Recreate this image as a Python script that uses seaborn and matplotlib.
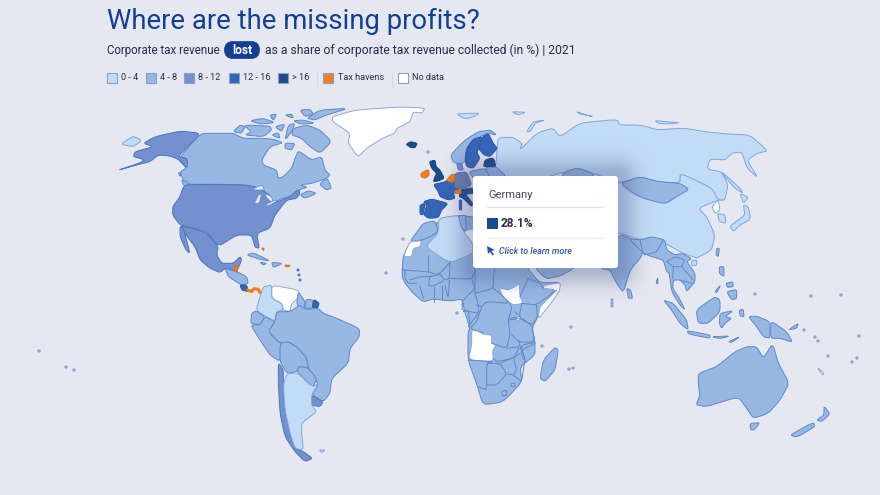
import numpy as np
import pandas as pd
import seaborn as sns
import matplotlib.pyplot as plt
from matplotlib.patches import FancyBboxPatch, Rectangle

# legend classes
BINS = ['0 - 4', '4 - 8', '8 - 12', '12 - 16', '> 16', 'Tax havens', 'No data']
BIN_COLORS = ['#c3dcf5', '#97b8e3', '#7390cf', '#3465b8', '#1c4a8f', '#f07f1e', '#ffffff']
EDGE_COLORS = ['#7fa6dc', '#5f88c8', '#4f74bc', '#2a559f', '#173d78', '#d96f14', '#8fa9d8']
BG = '#e5e8f0'
NAVY = '#123f94'
INK = '#2b2a4c'
GERMANY = '#6d80ad'

TITLE = 'Where are the missing profits?'
SUB_LEFT = 'Corporate tax revenue'
SUB_PILL = 'lost'
SUB_RIGHT = 'as a share of corporate tax revenue collected (in %) | 2021'
TIP_NAME = 'Germany'
TIP_VALUE = '28.1%'
TIP_LINK = 'Click to learn more'

NA_ORIGIN = (100, 100)
north_america = [
    (0, [(62,133),(100,108),(125,122),(100,140)]),
    (1, [(245,240),(262,245),(268,262),(250,255)]),
    (1, [(235,218),(243,218),(240,230)]),
    (2, [(305,100),(240,93),(165,110),(130,130),(160,140),(105,155),(100,170),(130,178),(125,187),(50,212),(110,195),(150,185),(175,165),(210,168),(235,178),(262,205),(262,175),(232,170)]),
    (2, [(265,253),(440,255),(470,262),(510,285),(520,310),(570,290),(595,268),(600,280),(590,295),(560,300),(525,345),(510,385),(470,400),(478,445),(465,442),(455,405),(410,405),(355,440),(320,395),(280,385),(240,375),(218,345),(218,320),(240,290),(250,260)]),
    (2, [(240,378),(280,385),(320,400),(355,440),(350,465),(365,490),(400,490),(420,470),(425,480),(410,515),(375,505),(360,518),(330,505),(300,480),(285,440),(250,395)]),
    (2, [(240,380),(250,385),(270,460),(258,450),(240,410)]),
    (1, [(375,505),(410,515),(440,530),(445,550),(425,555),(385,530)]),
    (3, [(420,555),(440,555),(445,575),(425,570)]),
    (1, [(440,465),(460,458),(510,483),(480,478)]),
    (1, [(515,487),(548,490),(520,503)]),
    (1, [(480,487),(500,490),(490,495)]),
    (5, [(403,498),(412,495),(412,515),(403,515)]),
    (5, [(555,495),(570,496),(568,500),(556,500)]),
    (5, [(485,443),(493,446),(490,452)]),
]
panama = [(443,570),(455,575),(462,566),(475,568),(480,578)]
greenland = [(332,117),(355,110),(400,107),(425,108),(422,113),(413,112),(410,122),(397,128),(395,133),(383,138),(367,148),(358,157),(348,143),(350,133),(333,122)]

CA_ORIGIN = (220, 100)
canada = [
    [(-60,100),(0,100),(40,100),(70,115),(130,115),(160,118),(190,128),(150,140),(125,180),(130,195),(170,210),(175,235),(190,230),(215,205),(225,175),(235,152),(275,180),(305,170),(315,210),(330,225),(320,235),(290,245),(275,250),(240,255),(262,262),(240,268),(235,285),(185,295),(160,310),(150,290),(125,265),(95,260),(80,255),(0,253),(-105,253),(-120,215),(-100,205),(-125,178)],
    [(305,245),(322,235),(335,265),(320,270),(300,255)],
    [(240,285),(265,272),(290,280),(255,295)],
    [(220,85),(260,75),(300,90),(335,125),(300,160),(270,140),(245,115),(215,105)],
    [(70,75),(150,78),(155,90),(130,110),(75,105),(95,95)],
    [(40,95),(60,75),(75,80),(65,100)],
    [(260,55),(300,30),(385,25),(320,45),(285,60)],
    [(220,62),(250,60),(285,70),(240,72)],
    [(90,62),(130,55),(165,68),(120,72)],
    [(150,45),(170,42),(160,62)],
    [(195,45),(215,42),(220,55)],
    [(240,30),(270,28),(280,42),(255,50)],
    [(165,80),(195,72),(185,95)],
    [(205,75),(225,70),(215,95),(195,120)],
    [(155,105),(175,98),(180,115)],
    [(195,130),(225,130),(215,150),(195,145)],
]
# lakes are holes in the land
lakes = [
    [(95,268),(125,255),(135,270),(110,270)],
    [(103,310),(115,285),(125,280),(118,310)],
    [(135,280),(155,290),(160,310),(140,295)],
    [(135,315),(165,300),(172,303),(145,318)],
]

SA_ORIGIN = (220, 270)
south_america = [
    (6, [(155,45),(235,60),(240,80),(215,100),(210,125),(190,120),(185,100),(155,85)]),
    (0, [(155,45),(155,85),(185,100),(190,120),(170,125),(165,155),(108,122),(120,80),(130,50)]),
    (1, [(108,122),(135,140),(120,165),(92,160),(95,130)]),
    (1, [(92,165),(120,165),(135,140),(165,155),(145,185),(175,215),(185,220),(180,275),(150,255),(120,210)]),
    (1, [(235,65),(255,95),(255,118),(240,120),(230,100)]),
    (1, [(258,88),(280,90),(277,115),(255,115)]),
    (3, [(282,88),(298,100),(292,115),(277,112)]),
    (1, [(145,185),(165,155),(170,125),(210,125),(240,105),(255,118),(295,115),(310,130),(350,145),(418,175),(418,200),(390,235),(385,280),(335,325),(330,370),(310,395),(275,375),(295,345),(285,325),(265,295),(260,265),(235,235),(205,215),(180,220)]),
    (1, [(180,220),(205,215),(235,235),(260,265),(265,295),(240,290),(230,305),(200,310),(180,275)]),
    (1, [(235,290),(262,292),(290,325),(280,350),(265,340),(232,305)]),
    (2, [(275,375),(310,395),(300,410),(275,405)]),
    (2, [(175,278),(190,300),(190,345),(195,420),(210,490),(225,535),(250,545),(278,565),(255,575),(225,545),(195,500),(180,430),(175,340)]),
    (0, [(200,312),(232,308),(265,340),(280,350),(295,340),(275,375),(275,405),(290,425),(270,440),(245,460),(245,490),(250,540),(225,535),(210,490),(195,420),(190,345)]),
    (0, [(298,540),(315,540),(305,548)]),
]

# Africa: one land shape, the rest are overlays and border lines
AF_ORIGIN = (400, 255)
africa_land = [(440,220),(460,215),(478,218),(520,230),(527,268),(540,283),(561,282),(553,292),(540,312),(532,328),(535,343),(535,355),(520,367),(522,382),(503,402),(483,405),(477,385),(468,360),(468,332),(470,328),(465,313),(462,299),(450,301),(433,299),(423,302),(412,292),(405,283),(402,277),(403,257),(410,242),(422,241),(432,228)]
arabia = [(535,268),(546,279),(560,276),(575,268),(580,240),(540,240)]
africa_over = [
    (6, [(215,225),(235,225),(250,238),(275,240),(275,265),(290,268),(278,285),(280,320),(205,315),(215,270)]),
    (6, [(298,98),(325,105),(345,95),(358,85),(360,125),(370,145),(340,150),(310,130)]),
    (6, [(415,185),(420,155),(470,105),(430,100),(430,92),(482,82),(478,110),(445,155),(418,188)]),
    (6, [(348,178),(360,176),(360,197),(350,197)]),
]
africa_borders = [
    [(85,0),(85,50)],
    [(5,45),(85,50),(115,60),(150,22)],
    [(15,45),(15,70),(25,85),(50,85)],
    [(30,75),(60,65),(90,65)],
    [(90,65),(120,58),(135,75),(95,95),(85,90),(90,65)],
    [(150,22),(148,70),(135,75)],
    [(148,70),(215,72),(225,45),(218,20)],
    [(60,95),(70,130)],
    [(103,95),(103,140)],
    [(125,92),(125,135)],
    [(135,92),(145,130),(148,75)],
    [(215,72),(225,100),(190,135),(185,150)],
    [(225,45),(225,100),(225,115),(280,100),(280,65),(285,40)],
    [(190,145),(185,165),(235,175),(235,150),(225,115)],
    [(190,170),(205,165),(210,210)],
    [(235,175),(205,215)],
    [(280,100),(300,115),(330,145),(260,140),(245,155),(230,150)],
    [(245,155),(230,200),(210,220),(250,235)],
    [(275,265),(320,280),(330,240),(325,195),(335,160),(330,145)],
    [(360,125),(385,70)],
    [(365,145),(410,150),(470,105)],
    [(430,100),(420,85),(385,70)],
    [(365,145),(358,185),(330,190)],
    [(410,150),(412,190),(395,210),(358,185),(345,170)],
    [(325,195),(358,190),(395,210),(405,260),(360,262),(335,240)],
    [(320,280),(360,275),(340,310),(290,320),(280,310)],
    [(405,262),(365,270),(365,300),(375,320)],
]

SOUTH_ORIGIN = (220, 270)
south_africa = [
    (1, [(1005,232),(1015,240),(1005,300),(975,335),(960,325),(970,270)]),
    (1, [(845,365),(860,360),(860,375),(848,378)]),
    (1, [(872,340),(885,340),(885,350),(874,350)]),
]
south_borders = [
    [(945,220),(905,240),(915,265),(905,335),(880,315),(890,300),(880,265),(900,250)],
    [(840,280),(880,262)],
    [(745,270),(820,275),(800,280),(800,360),(775,350)],
    [(800,280),(840,280),(860,312),(830,345),(800,345)],
    [(860,312),(880,315)],
    [(895,210),(905,245)],
]

EU_ORIGIN = (380, 100)
north_africa = [
    (1, [(165,362),(175,395),(140,415),(125,420),(90,425),(115,390),(130,370)]),
    (6, [(70,470),(90,425),(125,422),(120,440),(100,445),(95,470)]),
    (0, [(175,355),(240,345),(250,395),(280,430),(280,460),(210,490),(135,440),(175,400)]),
    (1, [(235,348),(258,345),(258,395),(245,385)]),
    (6, [(250,395),(280,385),(330,440),(330,460),(280,460),(278,430)]),
    (0, [(230,42),(265,40),(300,40),(270,55),(250,55)]),
    (0, [(395,35),(438,37),(415,45)]),
    (0, [(440,95),(460,65),(495,60),(465,70),(450,95)]),
    (0, [(590,35),(620,45),(640,50),(600,42)]),
]

WE_ORIGIN = (410, 125)
europe = [
    (4, [(-12,58),(2,50),(22,55),(15,68),(3,68)]),
    (4, [(58,110),(75,105),(78,125),(90,135),(103,160),(85,168),(70,170),(75,155),(80,145),(65,130)]),
    (5, [(33,145),(55,133),(58,150),(45,160),(33,155)]),
    (3, [(70,178),(100,172),(115,165),(135,170),(150,180),(145,195),(130,205),(135,220),(115,225),(90,215),(85,200)]),
    (3, [(40,230),(65,222),(115,235),(95,255),(85,278),(55,280),(42,270),(50,240)]),
    (3, [(30,240),(45,235),(40,270),(30,268)]),
    (4, [(150,205),(165,205),(188,235),(185,245),(160,220),(148,215)]),
    (4, [(150,195),(190,188),(192,205),(165,208),(150,205)]),
    (3, [(148,225),(155,225),(155,255),(148,255)]),
    (1, [(175,140),(225,130),(245,155),(195,165)]),
    (1, [(225,125),(258,125),(290,155),(240,160)]),
    (4, [(225,105),(250,98),(258,125),(220,125)]),
    (1, [(122,90),(150,60),(170,42),(205,20),(240,15),(260,30),(235,25),(210,35),(170,75),(165,110),(150,118),(130,112)]),
    (3, [(165,105),(170,70),(190,42),(215,35),(215,60),(200,80),(210,100),(190,130),(170,125)]),
    (3, [(218,35),(235,25),(250,55),(262,70),(240,95),(222,90),(205,70)]),
    (2, [(140,115),(155,115),(160,135),(145,135)]),
]
# drawn over Germany's neighbours
germany = [(135,145),(170,140),(185,180),(165,190),(135,190),(133,170)]
benelux = [(110,165),(125,148),(135,148),(133,170),(120,172)]
swiss = [(133,198),(150,193),(155,205),(135,205)]

russia = [(497,152),(498,138),(512,137),(522,143),(520,150),(537,133),(553,128),(560,137),(580,123),(610,120),(617,120),(620,125),(640,125),(658,130),(683,128),(707,132),(728,134),(750,135),(768,151),(758,153),(747,160),(758,178),(747,168),(742,152),(732,153),(725,160),(710,159),(707,169),(722,172),(728,185),(725,200),(718,200),(712,188),(680,173),(680,183),(658,182),(640,177),(620,183),(590,172),(562,172),(540,180),(530,200),(480,200),(490,180),(495,172)]
kazakhstan = [(562,176),(565,172),(577,168),(590,172),(595,177),(600,200),(560,200)]

AS_ORIGIN = (600, 110)
china = [(240,190),(290,195),(345,235),(360,235),(375,270),(355,270),(295,295),(320,320),(345,375),(335,420),(290,445),(280,440),(250,430),(195,400),(175,385),(125,390),(60,370),(-30,340),(-30,230),(60,220),(120,200),(175,215),(240,220)]
asia = [
    (1, [(60,220),(120,200),(175,215),(240,220),(268,238),(230,260),(195,282),(130,265),(100,250)]),
    (1, [(55,368),(130,405),(125,440),(90,480),(70,548),(50,520),(30,480),(0,475)]),
    (1, [(80,535),(92,540),(98,565),(85,565)]),
    (6, [(335,290),(355,270),(360,300),(345,310)]),
    (0, [(352,310),(375,315),(378,340),(358,335)]),
    (0, [(395,345),(435,315),(430,285),(445,290),(452,328),(420,345),(400,365),(390,350)]),
    (0, [(420,250),(445,262),(430,280)]),
    (0, [(365,185),(415,230),(430,250),(405,235),(375,200)]),
    (1, [(350,415),(358,415),(355,440),(348,435)]),
    (1, [(262,662),(330,675),(330,685),(265,672)]),
    (1, [(335,680),(390,678),(360,686)]),
    (1, [(385,695),(420,680),(395,697)]),
    (1, [(360,610),(400,602),(375,620),(395,625),(375,640),(365,655),(358,640)]),
    (1, [(418,600),(430,598),(432,620),(420,618)]),
    (1, [(445,620),(470,618),(510,635),(510,685),(490,680),(470,650)]),
    (1, [(512,632),(560,665),(578,697),(540,685),(512,685)]),
    (1, [(358,470),(372,470),(372,500),(358,490)]),
    (1, [(380,545),(410,538),(410,565),(395,570)]),
    (1, [(378,520),(398,515),(400,530),(382,532)]),
    (1, [(345,545),(362,525),(350,548)]),
    (1, [(565,660),(595,640),(590,655)]),
    (1, [(295,790),(350,770),(405,725),(440,710),(470,710),(490,745),(518,700),(535,760),(568,820),(540,870),(505,910),(460,925),(440,895),(415,860),(320,890),(288,885),(300,855),(295,825)]),
    (1, [(450,940),(480,938),(462,960),(452,960)]),
    (1, [(570,975),(640,937),(645,950),(590,982)]),
    (1, [(650,930),(672,915),(672,888),(690,912),(665,935)]),
    (6, [(652,772),(672,790),(668,795)]),
    (1, [(168,520),(173,503),(174,520)]),
    (0, [(165,32),(200,35),(240,38),(205,42),(175,40)]),
]
SEA_ORIGIN = (630, 230)
sea = [
    (1, [(-5,25),(30,30),(65,20),(105,30),(110,60),(135,75),(155,70),(185,85),(170,95),(195,130),(195,155),(170,185),(165,165),(150,150),(130,150),(128,175),(148,205),(165,240),(150,225),(125,185),(118,130),(110,125),(100,90),(65,80),(40,70)]),
    (0, [(185,92),(200,90),(200,105),(185,108)]),
    (1, [(100,210),(130,220),(170,270),(175,300),(150,280),(125,240)]),
    (1, [(198,240),(255,200),(270,210),(270,245),(235,280),(205,280)]),
]
sea_borders = [
    [(30,30),(40,75),(65,70),(80,65),(100,30)],
    [(110,95),(135,80),(165,90),(155,110),(130,110),(110,95)],
    [(130,110),(128,145)],
    [(155,110),(190,150)],
    [(150,150),(185,160)],
]

# tiny islands, pixel positions
isle_x = [39, 66, 74, 386, 298, 299, 300, 755, 811, 841, 859, 852, 857, 828, 804, 815, 818, 612, 612, 612, 542, 571, 569, 573, 457, 403, 428]
isle_y = [351, 367, 370, 273, 270, 275, 280, 294, 296, 295, 336, 362, 358, 356, 330, 337, 341, 300, 303, 306, 346, 327, 369, 368, 313, 239, 152]
isle_bin = [1, 1, 1, 1, 3, 3, 3, 1, 1, 1, 1, 1, 1, 1, 1, 1, 1, 1, 1, 1, 1, 1, 1, 1, 1, 1, 1]

# legend rows
legend_x = [112, 151, 189, 234, 283, 328, 403]
legend_text_x = [121, 160, 198, 243, 292, 338, 412]


def place(points, origin):
    """Crop pixels (3x) to picture pixels."""
    return [(origin[0] + x / 3, origin[1] + y / 3) for x, y in points]


def round_off(points, closed=True, rounds=2, cut=0.15):
    """Cut the corners of a hand traced outline so it reads like a coast."""
    pts = np.array(points, dtype=float)
    for _ in range(rounds):
        nxt = np.roll(pts, -1, axis=0)
        q = (1 - cut) * pts + cut * nxt
        r = cut * pts + (1 - cut) * nxt
        if not closed:
            q, r = q[:-1], r[:-1]
        new = np.empty((len(q) * 2, 2))
        new[0::2], new[1::2] = q, r
        if not closed:
            new = np.vstack([pts[0], new, pts[-1]])
        pts = new
    return pts


def land(ax, points, idx, z=2, lw=0.7):
    pts = round_off(points)
    ax.fill(pts[:, 0], pts[:, 1], facecolor=BIN_COLORS[idx], edgecolor=EDGE_COLORS[idx],
            linewidth=lw, zorder=z, joinstyle='round')


def borders(ax, lines, origin):
    for line in lines:
        pts = round_off(place(line, origin), closed=False, rounds=1)
        ax.plot(pts[:, 0], pts[:, 1], color=EDGE_COLORS[1], linewidth=0.7, zorder=3)


sns.set_theme(style='white')
plt.rcParams['font.family'] = ['Roboto', 'DejaVu Sans']

fig = plt.figure(figsize=(8.8, 4.95), dpi=100, facecolor=BG)
ax = fig.add_axes([0, 0, 1, 1])
ax.set_facecolor(BG)

# map
land(ax, place(china, AS_ORIGIN), 0)
land(ax, russia, 0)
land(ax, kazakhstan, 1)
land(ax, africa_land, 1)
land(ax, arabia, 1)
land(ax, greenland, 6)
for pts in canada:
    land(ax, place(pts, CA_ORIGIN), 1, z=2.1)
for idx, pts in north_america:
    land(ax, place(pts, NA_ORIGIN), idx, z=2.2)
for pts in lakes:
    p = round_off(place(pts, CA_ORIGIN))
    ax.fill(p[:, 0], p[:, 1], facecolor=BG, edgecolor=EDGE_COLORS[1], linewidth=0.5, zorder=2.3)
xs, ys = zip(*place(panama, NA_ORIGIN))
ax.plot(xs, ys, color=BIN_COLORS[5], linewidth=2.2, zorder=3, solid_capstyle='round')
for idx, pts in south_america:
    land(ax, place(pts, SA_ORIGIN), idx, z=2.2)
for idx, pts in north_africa:
    land(ax, place(pts, EU_ORIGIN), idx, z=2.2)
for idx, pts in europe:
    land(ax, place(pts, WE_ORIGIN), idx, z=2.25)
for idx, pts in asia:
    land(ax, place(pts, AS_ORIGIN), idx, z=2.2)
for idx, pts in sea:
    land(ax, place(pts, SEA_ORIGIN), idx, z=2.2)
for idx, pts in africa_over:
    land(ax, place(pts, AF_ORIGIN), idx, z=2.4)
for idx, pts in south_africa:
    land(ax, place(pts, SOUTH_ORIGIN), idx, z=2.4)
borders(ax, africa_borders, AF_ORIGIN)
borders(ax, south_borders, SOUTH_ORIGIN)
borders(ax, sea_borders, SEA_ORIGIN)

p = round_off(place(germany, WE_ORIGIN), rounds=1)
ax.fill(p[:, 0], p[:, 1], facecolor=GERMANY, edgecolor='#5a6d9c', linewidth=0.7, zorder=2.5)
land(ax, place(benelux, WE_ORIGIN), 5, z=2.6)
land(ax, place(swiss, WE_ORIGIN), 5, z=2.6)

isles = pd.DataFrame({'x': isle_x, 'y': isle_y, 'bin': [BINS[i] for i in isle_bin]})
sns.scatterplot(data=isles, x='x', y='y', hue='bin', palette=dict(zip(BINS, BIN_COLORS)), s=3,
                linewidth=0.4, edgecolor=EDGE_COLORS[1], legend=False, ax=ax, zorder=3)

# title block
ax.text(107, 29, TITLE, fontsize=19.8, color=NAVY, va='baseline', ha='left')
ax.text(107, 54, SUB_LEFT, fontsize=8.3, color=INK, va='baseline')
ax.add_patch(FancyBboxPatch((224.5, 41.5), 35, 17, boxstyle='round,pad=0,rounding_size=8.5',
                            facecolor=NAVY, edgecolor=NAVY, linewidth=0.5, zorder=4))
ax.text(242, 50, SUB_PILL, fontsize=8.65, color='white', fontweight='bold', ha='center', va='center', zorder=5)
ax.text(265, 54, SUB_RIGHT, fontsize=8.7, color=INK, va='baseline')

# legend
legend_df = pd.DataFrame({'x': legend_x, 'y': [78] * len(BINS), 'bin': BINS})
sns.scatterplot(data=legend_df, x='x', y='y', hue='bin', palette=dict(zip(BINS, BIN_COLORS)), marker='s',
                s=62, linewidth=0.8, edgecolor='#8aa0c4', legend=False, ax=ax, zorder=4)
for label, x in zip(BINS, legend_text_x):
    ax.text(x, 78, label, fontsize=6.6, color=INK, va='center', ha='left')
for x in [317, 392]:
    ax.plot([x, x], [72, 86], color='#d3d8e4', linewidth=0.8)

# tooltip shadow
gx, gy = np.meshgrid(np.arange(420, 680), np.arange(125, 320))
dx = np.maximum(np.maximum(473 - gx, gx - 618), 0)
dy = np.maximum(np.maximum(176 - gy, gy - 268), 0)
dist = np.hypot(dx, dy)
shade = np.zeros(gx.shape + (4,))
shade[..., :3] = [0.27, 0.32, 0.55]
shade[..., 3] = 0.34 * np.exp(-(dist / 18) ** 2)
ax.imshow(shade, extent=(420, 680, 320, 125), zorder=5, interpolation='bilinear', aspect='auto')

# tooltip
ax.add_patch(FancyBboxPatch((476, 179), 139, 86, boxstyle='round,pad=3,rounding_size=3',
                            facecolor='white', edgecolor='none', zorder=6))
ax.text(488, 195, TIP_NAME, fontsize=8, color='#45445f', va='center', zorder=7)
for y, col in [(207, '#dfe4ee'), (238, '#e7ebf3')]:
    ax.plot([487, 604], [y, y], color=col, linewidth=1, zorder=7)
ax.add_patch(Rectangle((487, 218), 11, 11, facecolor=BIN_COLORS[4], edgecolor='none', zorder=7))
ax.text(501, 223.5, TIP_VALUE, fontsize=8.6, fontweight='bold', color=INK, va='center', zorder=7)
ax.fill([487, 495, 491.5, 494, 492.5, 490, 488], [246, 250, 251, 254.5, 255.5, 252, 254],
        color='#2a56a8', linewidth=0, zorder=7)
ax.text(499, 251, TIP_LINK, fontsize=6.4, style='italic', fontweight='medium', color='#2a56a8', va='center', zorder=7)

ax.set_xlim(0, 880)
ax.set_ylim(495, 0)
ax.axis('off')

fig.savefig('out.png', dpi=100, facecolor=BG)
